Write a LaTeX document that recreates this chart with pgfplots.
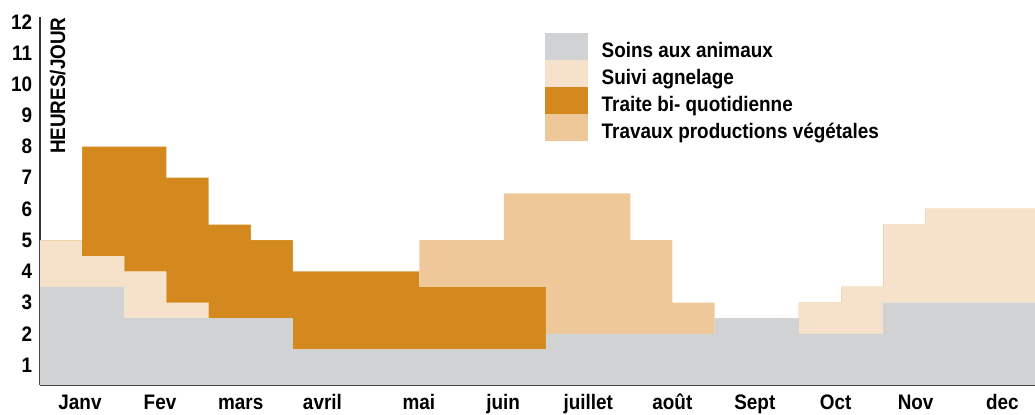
\documentclass[border=0pt]{standalone}
\usepackage{fontspec}
\setmainfont{Liberation Sans}[FakeStretch=0.9]
\usepackage{pgfplots}
\pgfplotsset{compat=1.18}
\usepackage{pgfplotstable}
\usepgfplotslibrary{fillbetween}

\definecolor{soins}{RGB}{209,210,212}
\definecolor{agnel}{RGB}{246,226,202}
\definecolor{traite}{RGB}{211,137,29}
\definecolor{trav}{RGB}{239,200,153}
\definecolor{axl}{RGB}{51,51,51}

\pgfplotsset{sqleg/.style={legend image code/.code={\fill[##1, draw=none] (0pt,-6.5pt) rectangle (21.65pt,6.85pt);}}}

% cumulative tops of the stacked series, per half-month step
\pgfplotstableread{
x  C1  C2  C3  C4
0  3.5 5   5   5
1  3.5 4.5 8   8
2  2.5 4   8   8
3  2.5 3   7   7
4  2.5 2.5 5.5 5.5
5  2.5 2.5 5   5
6  1.5 1.5 4   4
7  1.5 1.5 4   4
8  1.5 1.5 4   4
9  1.5 1.5 3.5 5
10 1.5 1.5 3.5 5
11 1.5 1.5 3.5 6.5
12 2   2   2   6.5
13 2   2   2   6.5
14 2   2   2   5
15 2   2   2   3
16 2.5 2.5 2.5 2.5
17 2.5 2.5 2.5 2.5
18 2   3   3   3
19 2   3.5 3.5 3.5
20 3   5.5 5.5 5.5
21 3   6   6   6
22 3   6   6   6
23 3   6   6   6
24 3   6   6   6
}\tops

\newcommand\lbl{\fontsize{10.5}{12}\selectfont\bfseries}

\begin{document}
\begin{tikzpicture}
\begin{axis}[
  at={(0pt,0pt)}, anchor=south west,
  scale only axis, width=497.5pt, height=184pt,
  xmin=0, xmax=23.6, ymin=0.36, ymax=12.15,
  axis x line=bottom, axis y line=left,
  axis line style={-, draw=axl, line width=1pt},
  xtick={0.949,2.846,4.762,6.699,8.988,10.987,13.002,14.999,16.955,18.871,20.768,22.824},
  xticklabels={Janv,Fev,mars,avril,mai,juin,juillet,août,Sept,Oct,Nov,dec},
  ytick={1,2,...,12},
  major tick length=0pt,
  tick style={draw=none},
  xticklabel style={anchor=base, inner sep=0pt, yshift=-12.25pt, font=\lbl},
  yticklabel style={anchor=east, inner sep=0pt, xshift=-3.75pt, font=\lbl},
  /pgf/number format/assume math mode=true,
  legend cell align=left,
  sqleg,
  legend style={at={(axis description cs:0.5075,0.9565)}, anchor=north west,
    draw=none, fill=none, inner sep=0pt, outer sep=0pt,
    row sep=0pt, column sep=0pt, font=\lbl,
    nodes={inner sep=0pt, outer sep=0pt, text height=11.85pt, text depth=1.5pt},
    /tikz/every odd column/.style={column sep=6.7pt}},
]
\addplot[name path=c1, draw=none, forget plot, const plot] table[x=x, y=C1] {\tops};
\addplot[name path=c2, draw=none, forget plot, const plot] table[x=x, y=C2] {\tops};
\addplot[name path=c3, draw=none, forget plot, const plot] table[x=x, y=C3] {\tops};
\addplot[name path=c4, draw=none, forget plot, const plot] table[x=x, y=C4] {\tops};

\addplot[fill=soins, draw=none, const plot, sqleg] table[x=x, y=C1] {\tops} \closedcycle;
\addlegendentry{Soins aux animaux}
\addplot[fill=agnel, draw=none, sqleg] fill between[of=c1 and c2];
\addlegendentry{Suivi agnelage}
\addplot[fill=traite, draw=none, sqleg] fill between[of=c2 and c3];
\addlegendentry{Traite bi- quotidienne}
\addplot[fill=trav, draw=none, sqleg] fill between[of=c3 and c4];
\addlegendentry{Travaux productions végétales}
\end{axis}
\node[rotate=90, anchor=base east, inner sep=0pt, font=\lbl] at (12.5pt,184pt) {HEURES/JOUR};
\pgfresetboundingbox
\useasboundingbox (-20pt,-14.5pt) rectangle (497.5pt,192.5pt);
\end{tikzpicture}
\end{document}
